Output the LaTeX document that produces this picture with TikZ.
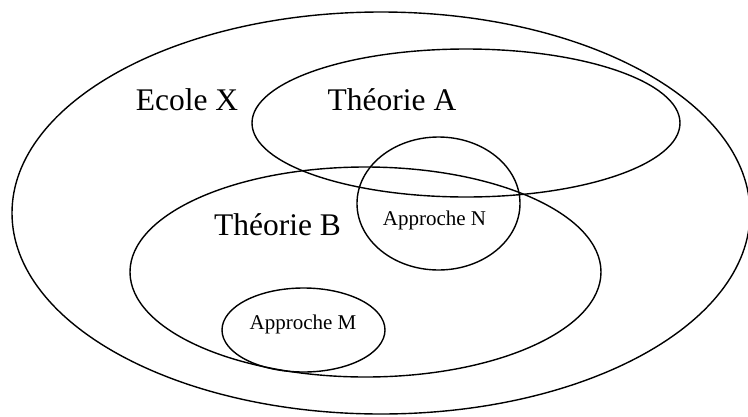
\documentclass[tikz,border=0pt]{standalone}
\usepackage{fontspec}
\setmainfont{Liberation Serif}
\usetikzlibrary{shapes.geometric}
\tikzset{
    zone/.style={
           ellipse,
           draw=black, line width=1.4pt,
           inner sep=0pt},
    gros/.style={font=\fontsize{31.5pt}{34pt}\selectfont},
    petit/.style={font=\fontsize{21pt}{23pt}\selectfont}
}
\begin{document}
\begin{tikzpicture}[x=1pt,y=-1pt]
          \useasboundingbox (0,0) rectangle (748,416);
          \node[zone, minimum width=738pt, minimum height=402pt](ecole) at (381,213) {};
          \node[zone, minimum width=428pt, minimum height=148pt](theoA) at (466,123) {};
          \node[zone, minimum width=471pt, minimum height=210pt](theoB) at (365.5,272) {};
          \node[zone, minimum width=163pt, minimum height=133pt](apprN) at (438.5,203.5) {};
          \node[zone, minimum width=163pt, minimum height=84pt](apprM) at (303.5,330) {};
          \node[gros](tEcole) at (187,100) {Ecole X};
          \node[gros](tTheoA) at (392,100) {Théorie A};
          \node[gros](tTheoB) at (277.5,225) {Théorie B};
          \node[petit](tApprN) at (434.5,220) {Approche N};
          \node[petit](tApprM) at (303,324) {Approche M};
\end{tikzpicture}
\end{document}
